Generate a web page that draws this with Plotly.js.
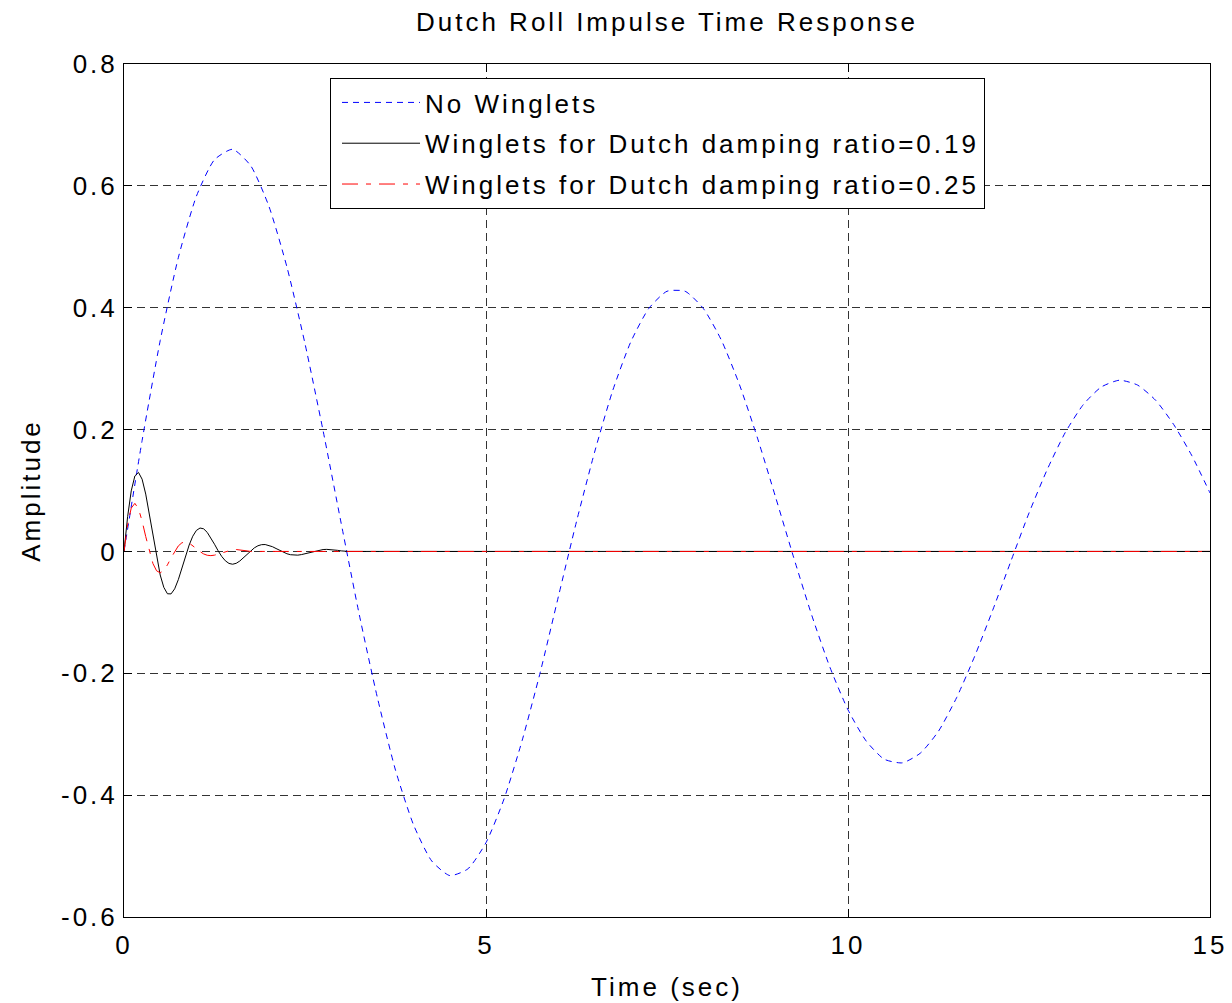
<!DOCTYPE html>
<html>
<head>
<meta charset="utf-8">
<script src="https://cdn.plot.ly/plotly-3.0.1.min.js"></script>
<style>
  html, body { margin: 0; padding: 0; background: #fff; }
  #chart { width: 1232px; height: 1003px; }
  svg text { letter-spacing: 3px; }
</style>
</head>
<body>
<div id="chart"></div>
<script>
// ---- Data ----
const chartTitle = "Dutch Roll Impulse Time Response";
const xAxisTitle = "Time (sec)";
const yAxisTitle = "Amplitude";

const seriesNames = [
  "No Winglets",
  "Winglets for Dutch damping ratio=0.19",
  "Winglets for Dutch damping ratio=0.25"
];

// No Winglets
const tNoWinglets = [0,0.25,0.5,0.75,1,1.25,1.5,1.75,2,2.25,2.5,2.75,3,3.25,3.5,3.75,4,4.25,4.5,4.75,
  5,5.25,5.5,5.75,6,6.25,6.5,6.75,7,7.25,7.5,7.75,8,8.25,8.5,8.75,9,9.25,9.5,9.75,
  10,10.25,10.5,10.75,11,11.25,11.5,11.75,12,12.25,12.5,12.75,13,13.25,13.5,13.75,14,14.25,14.5,14.75,15];
const yNoWinglets = [0,0.182,0.346,0.482,0.583,0.643,0.660,0.633,0.567,0.467,0.341,0.198,0.046,-0.104,-0.240,-0.359,-0.449,-0.508,-0.532,-0.521,
  -0.478,-0.406,-0.310,-0.198,-0.074,0.049,0.163,0.264,0.344,0.399,0.427,0.427,0.399,0.347,0.274,0.186,0.089,-0.010,-0.105,-0.190,
  -0.260,-0.311,-0.341,-0.347,-0.331,-0.295,-0.240,-0.172,-0.096,-0.016,0.063,0.134,0.195,0.241,0.270,0.281,0.273,0.248,0.208,0.157,0.096];

// Winglets, damping ratio 0.19
const tDamp019 = [0,0.05,0.1,0.15,0.2,0.25,0.3,0.35,0.4,0.45,0.5,0.55,0.6,0.65,0.7,0.75,0.8,0.85,0.9,0.95,
  1,1.05,1.1,1.15,1.2,1.25,1.3,1.35,1.4,1.45,1.5,1.55,1.6,1.65,1.7,1.75,1.8,1.85,1.9,1.95,
  2,2.05,2.1,2.15,2.2,2.25,2.3,2.35,2.4,2.45,2.5,2.55,2.6,2.65,2.7,2.75,2.8,2.85,2.9,2.95,
  3,3.05,3.1,15];
const yDamp019 = [0,0.0570,0.0994,0.1239,0.1297,0.1186,0.0941,0.0611,0.0248,-0.0099,
  -0.0387,-0.0590,-0.0695,-0.0697,-0.0614,-0.0464,-0.0276,-0.0077,0.0105,0.0250,
  0.0345,0.0384,0.0371,0.0312,0.0223,0.0118,0.0011,-0.0083,-0.0154,-0.0197,
  -0.0210,-0.0195,-0.0157,-0.0106,-0.0046,0.0010,0.0058,0.0093,0.0111,0.0113,
  0.0101,0.0078,0.0048,0.0016,-0.0014,-0.0038,-0.0054,-0.0062,-0.0061,-0.0052,
  -0.0038,-0.0021,-0.0004,0.0012,0.0024,0.0031,0.0034,0.0032,0.0026,0.0018,
  0.0009,-0.0001,0,0];

// Winglets, damping ratio 0.25
const tDamp025 = [0,0.05,0.1,0.15,0.2,0.25,0.3,0.35,0.4,0.45,0.5,0.55,0.6,0.65,0.7,0.75,0.8,0.85,0.9,0.95,
  1,1.05,1.1,1.15,1.2,1.25,1.3,1.35,1.4,1.45,1.5,1.55,1.6,1.65,1.7,1.75,1.8,15];
const yDamp025 = [0,0.0444,0.0712,0.0789,0.0701,0.0499,0.0244,-0.0004,-0.0200,-0.0318,
  -0.0351,-0.0310,-0.0220,-0.0106,0.0004,0.0090,0.0142,0.0156,0.0137,0.0097,
  0.0046,-0.0003,-0.0041,-0.0063,-0.0069,-0.0061,-0.0043,-0.0020,0.0001,0.0018,
  0.0028,0.0031,0.0027,0.0019,0.0009,-0.0001,0,0];

const xTickVals = [0, 5, 10, 15];
const xTickText = ["0", "5", "10", "15"];
const yTickVals = [-0.6, -0.4, -0.2, 0, 0.2, 0.4, 0.6, 0.8];
const yTickText = ["-0.6", "-0.4", "-0.2", "0", "0.2", "0.4", "0.6", "0.8"];

// ---- Chart ----
const FONT = "Liberation Sans, Arial, Helvetica, sans-serif";

const traces = [
  { x: tNoWinglets, y: yNoWinglets, name: seriesNames[0], type: "scatter", mode: "lines",
    legendgroup: "g1", line: { color: "#0000ff", width: 1, dash: "6px,5px", shape: "spline", smoothing: 0.6 } },
  { x: tDamp019, y: yDamp019, name: seriesNames[1], type: "scatter", mode: "lines",
    legendgroup: "g2", line: { color: "#000000", width: 1 } },
  { x: tDamp025, y: yDamp025, name: seriesNames[2], type: "scatter", mode: "lines",
    legendgroup: "g3", line: { color: "#ff0000", width: 1, dash: "16px,8px,5px,8px" } }
];

const axisCommon = {
  showline: true, linecolor: "#000", linewidth: 1, mirror: "allticks",
  ticks: "inside", ticklen: 8, tickcolor: "#000", tickwidth: 1,
  showgrid: true, gridcolor: "#333", gridwidth: 1, griddash: "8px,5px",
  zeroline: false, tickfont: { family: FONT, size: 26, color: "#000" },
  fixedrange: true
};

const layout = {
  width: 1232, height: 1003,
  margin: { l: 124, r: 22, t: 64, b: 86 },
  paper_bgcolor: "#fff", plot_bgcolor: "#fff",
  font: { family: FONT, size: 26, color: "#000" },
  title: { text: chartTitle, x: 0.5, xref: "paper", xanchor: "center",
           y: 1 - 22 / 1003, yref: "container", yanchor: "middle",
           font: { family: FONT, size: 26, color: "#000" } },
  xaxis: Object.assign({}, axisCommon, {
    range: [0, 15], tickmode: "array", tickvals: xTickVals, ticktext: xTickText,
    ticklabelstandoff: 5,
    title: { text: xAxisTitle, standoff: 18, font: { family: FONT, size: 26, color: "#000" } }
  }),
  yaxis: Object.assign({}, axisCommon, {
    range: [-0.6, 0.8], tickmode: "array", tickvals: yTickVals, ticktext: yTickText,
    title: { text: yAxisTitle, standoff: 12, font: { family: FONT, size: 26, color: "#000" } }
  }),
  showlegend: true,
  legend: {
    x: (330 - 124) / 1086, y: (916 - 78) / 852, xanchor: "left", yanchor: "top",
    bgcolor: "#fff", bordercolor: "#000", borderwidth: 1,
    font: { family: FONT, size: 26, color: "#000" },
    traceorder: "grouped", tracegroupgap: 4, itemwidth: 78, indentation: 6,
    entrywidth: 570
  }
};

Plotly.newPlot("chart", traces, layout, { staticPlot: true, displayModeBar: false });
</script>
</body>
</html>
